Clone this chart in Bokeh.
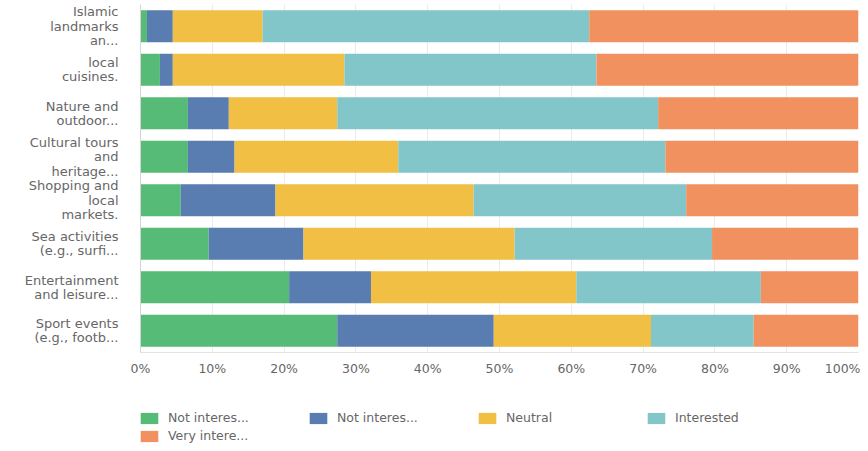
from bokeh.plotting import figure
from bokeh.layouts import column
from bokeh.models import (ColumnDataSource, Range1d, FixedTicker, Legend, LegendItem)
from bokeh.embed import file_html
from bokeh.resources import INLINE

categories = ["Islamic\nlandmarks\nan...", "local\ncuisines.", "Nature and\noutdoor...",
              "Cultural tours\nand\nheritage...", "Shopping and\nlocal\nmarkets.",
              "Sea activities\n(e.g., surfi...", "Entertainment\nand leisure...",
              "Sport events\n(e.g., footb..."]

series_labels = ["Not interes...", "Not interes...", "Neutral", "Interested", "Very intere..."]

not_interested_at_all = [0.9, 2.7, 6.6, 6.6, 5.6, 9.5, 20.7, 27.4]
not_interested = [3.6, 1.8, 5.7, 6.5, 13.2, 13.2, 11.4, 21.8]
neutral = [12.5, 23.9, 15.1, 22.8, 27.6, 29.4, 28.6, 21.9]
interested = [45.5, 35.1, 44.7, 37.2, 29.6, 27.5, 25.7, 14.3]
very_interested = [37.5, 36.5, 27.9, 26.9, 24.0, 20.4, 13.6, 14.6]

x_ticks = [0, 10, 20, 30, 40, 50, 60, 70, 80, 90, 100]
x_tick_labels = ["0%", "10%", "20%", "30%", "40%", "50%", "60%", "70%", "80%", "90%", "100%"]

colors = ["#55BB76", "#597DB0", "#F1BF43", "#83C6CA", "#F1915F"]

FONT = "DejaVu Sans"
LABEL_COLOR = "#666666"

n = len(categories)
ypos = list(range(n, 0, -1))
stackers = ["s0", "s1", "s2", "s3", "s4"]

source = ColumnDataSource(dict(
    y=ypos,
    s0=not_interested_at_all,
    s1=not_interested,
    s2=neutral,
    s3=interested,
    s4=very_interested,
))

p = figure(width=860, height=380, output_backend="svg", toolbar_location=None,
           x_range=Range1d(0, 100), y_range=Range1d(0.5, n + 0.5),
           min_border_left=140, min_border_right=2, min_border_top=4, min_border_bottom=28)
p.outline_line_color = None

rs = p.hbar_stack(stackers, y="y", height=0.74, color=colors,
                  line_color=None, source=source)

# y axis
yax = p.yaxis[0]
yax.ticker = FixedTicker(ticks=ypos)
yax.major_label_overrides = {y: c for y, c in zip(ypos, categories)}
yax.major_label_text_font = FONT
yax.major_label_text_font_size = "13px"
yax.major_label_text_color = LABEL_COLOR
yax.major_label_text_line_height = 0.96
yax.major_label_standoff = 22
yax.major_tick_line_color = None
yax.minor_tick_line_color = None
yax.major_tick_in = 0
yax.major_tick_out = 0
yax.axis_line_color = "#d4d4d4"

# x axis
xax = p.xaxis[0]
xax.ticker = FixedTicker(ticks=x_ticks)
xax.major_label_overrides = {t: l for t, l in zip(x_ticks, x_tick_labels)}
xax.major_label_text_font = FONT
xax.major_label_text_font_size = "12.5px"
xax.major_label_text_color = LABEL_COLOR
xax.major_label_standoff = 8
xax.major_tick_line_color = None
xax.minor_tick_line_color = None
xax.major_tick_in = 0
xax.major_tick_out = 0
xax.axis_line_color = "#e3e3e3"

p.xgrid.grid_line_color = "#ebebeb"
p.xgrid.ticker = FixedTicker(ticks=x_ticks)
p.ygrid.grid_line_color = None

# legend in its own strip below the chart (renderers hidden, used only for swatches)
p2 = figure(width=860, height=63, output_backend="svg", toolbar_location=None,
            x_range=Range1d(0, 100), y_range=Range1d(0.5, n + 0.5), min_border=0)
p2.outline_line_color = None
p2.axis.visible = False
p2.grid.grid_line_color = None
swatches = p2.hbar_stack(stackers, y="y", height=0.74, color=colors,
                         line_color=None, source=source)
for r in swatches:
    r.visible = False

items = [LegendItem(label=lab, renderers=[r]) for lab, r in zip(series_labels, swatches)]
legend = Legend(items=items, location=(-2, 0), orientation="horizontal", ncols=4,
                glyph_width=22, glyph_height=14, label_height=14, label_width=136,
                label_standoff=8, spacing=3, padding=0, margin=0,
                border_line_color=None, background_fill_alpha=0,
                inactive_fill_alpha=0,
                label_text_font=FONT, label_text_font_size="12.5px",
                label_text_color=LABEL_COLOR)
p2.add_layout(legend)

layout = column(p, p2, spacing=0)
open("out.html", "w").write(file_html(layout, INLINE))
